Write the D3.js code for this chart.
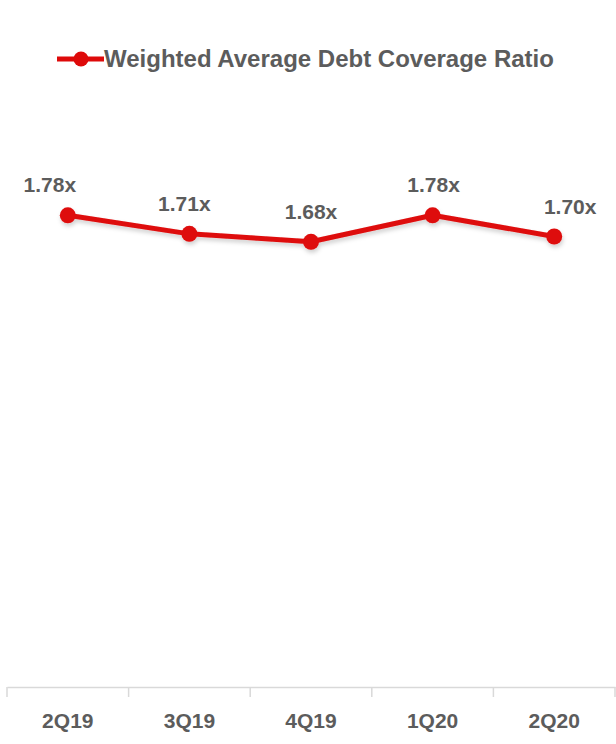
<!DOCTYPE html>
<html>
<head>
<meta charset="utf-8">
<script src="https://cdn.jsdelivr.net/npm/d3@7"></script>
<style>
  html, body { margin: 0; padding: 0; background: #ffffff; }
  svg { display: block; }
</style>
</head>
<body>
<script>
// Quarterly weighted average debt coverage ratio
const quarters = ["2Q19", "3Q19", "4Q19", "1Q20", "2Q20"];
const coverage = [1.78, 1.71, 1.68, 1.78, 1.70];
const seriesName = "Weighted Average Debt Coverage Ratio";

const W = 616, H = 744;
const red = "#de0a0a";
const textGrey = "#5c5c5c";
const font = "'Liberation Sans', Arial, sans-serif";

const svg = d3.select("body").append("svg")
  .attr("width", W).attr("height", H);

const defs = svg.append("defs");
const shadow = defs.append("filter").attr("id", "lineShadow")
  .attr("x", "-5%").attr("y", "-50%").attr("width", "110%").attr("height", "200%");
shadow.append("feDropShadow")
  .attr("dx", 1).attr("dy", 3).attr("stdDeviation", 2)
  .attr("flood-color", "#000").attr("flood-opacity", 0.18);

const x = d3.scaleBand().domain(quarters).range([7, 615]);
const y = d3.scaleLinear().domain([0, 2.5]).range([687, 24.5]);

// Category axis along the bottom
const axis = d3.axisBottom(x).tickSize(0).tickPadding(0);
const gAxis = svg.append("g").attr("transform", "translate(0,687)").call(axis);
gAxis.select(".domain").attr("stroke", "#d9d9d9").attr("stroke-width", 1.5);
gAxis.selectAll(".tick text")
  .attr("y", 41)
  .attr("dy", 0)
  .attr("fill", textGrey)
  .style("font-family", font)
  .style("font-weight", "bold")
  .style("font-size", "21px");

// Tick marks on band boundaries
const bounds = quarters.map(q => x(q)).concat([x.range()[1]]);
svg.append("g").selectAll("line").data(bounds).join("line")
  .attr("x1", d => d).attr("x2", d => d)
  .attr("y1", 687).attr("y2", 697)
  .attr("stroke", "#d9d9d9").attr("stroke-width", 1.5);

const cx = (d, i) => x(quarters[i]) + x.bandwidth() / 2;

const line = d3.line()
  .x((d, i) => cx(d, i))
  .y(d => y(d));

const gSeries = svg.append("g").attr("filter", "url(#lineShadow)");
gSeries.append("path")
  .datum(coverage)
  .attr("d", line)
  .attr("fill", "none")
  .attr("stroke", red)
  .attr("stroke-width", 5)
  .attr("stroke-linejoin", "round");

gSeries.selectAll("circle").data(coverage).join("circle")
  .attr("cx", cx)
  .attr("cy", d => y(d))
  .attr("r", 8)
  .attr("fill", red);

// Value labels above each point
const labelShift = [-18, -5, 0, 1, 16];
svg.append("g").selectAll("text").data(coverage).join("text")
  .attr("x", (d, i) => cx(d, i) + labelShift[i])
  .attr("y", d => y(d) - 23)
  .attr("text-anchor", "middle")
  .attr("fill", textGrey)
  .style("font-family", font)
  .style("font-weight", "bold")
  .style("font-size", "21px")
  .text(d => d.toFixed(2) + "x");

// Legend
const gLeg = svg.append("g");
gLeg.append("line")
  .attr("x1", 57).attr("x2", 104).attr("y1", 59).attr("y2", 59)
  .attr("stroke", red).attr("stroke-width", 5);
gLeg.append("circle").attr("cx", 81).attr("cy", 59).attr("r", 7.5).attr("fill", red);
gLeg.append("text")
  .attr("x", 104).attr("y", 67)
  .attr("fill", textGrey)
  .style("font-family", font)
  .style("font-weight", "bold")
  .style("font-size", "24px")
  .text(seriesName);
</script>
</body>
</html>
